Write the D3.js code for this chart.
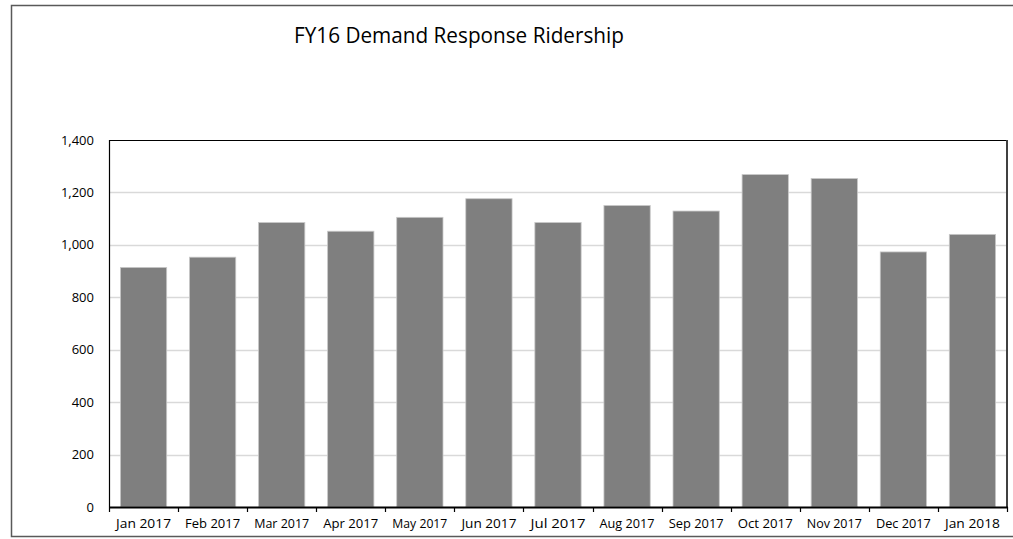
<!DOCTYPE html>
<html>
<head>
<meta charset="utf-8">
<script src="https://cdn.jsdelivr.net/npm/d3@7"></script>
<style>
  body { margin: 0; background: #fff; }
  text { font-family: "Open Sans", "Noto Sans", sans-serif; fill: #000; }
</style>
</head>
<body>
<script>
// chart data
var months = ["Jan 2017", "Feb 2017", "Mar 2017", "Apr 2017", "May 2017", "Jun 2017", "Jul 2017",
              "Aug 2017", "Sep 2017", "Oct 2017", "Nov 2017", "Dec 2017", "Jan 2018"];
var riders = [914, 953, 1085, 1052, 1105, 1176, 1085, 1150, 1129, 1268, 1253, 973, 1040];
var yTicks = [0, 200, 400, 600, 800, 1000, 1200, 1400];
var title = "FY16 Demand Response Ridership";

var width = 1013, height = 539;
var plot = { left: 109, right: 1007, top: 140, bottom: 507 };

var svg = d3.select("body").append("svg").attr("width", width).attr("height", height);

// outer chart frame (right side runs off the picture)
svg.append("rect")
  .attr("x", 11.5).attr("y", 5.5).attr("width", 1020).attr("height", 531)
  .attr("fill", "none").attr("stroke", "#595959").attr("stroke-width", 1.5);

var x = d3.scaleBand().domain(months).range([plot.left, plot.right]).paddingInner(0.33).paddingOuter(0.165);
var y = d3.scaleLinear().domain([0, 1400]).range([plot.bottom, plot.top]);

// gridlines
svg.append("g").selectAll("line").data(yTicks.slice(1, -1)).enter().append("line")
  .attr("x1", plot.left).attr("x2", plot.right)
  .attr("y1", function(d) { return Math.round(y(d)) + 0.5; })
  .attr("y2", function(d) { return Math.round(y(d)) + 0.5; })
  .attr("stroke", "#d9d9d9").attr("stroke-width", 1.5);

// bars
svg.append("g").selectAll("rect").data(riders).enter().append("rect")
  .attr("x", function(d, i) { return x(months[i]); })
  .attr("y", function(d) { return y(d); })
  .attr("width", x.bandwidth())
  .attr("height", function(d) { return plot.bottom - y(d); })
  .attr("fill", "#7f7f7f").attr("stroke", "#c8c8c8").attr("stroke-width", 0.8);

// plot border (top, left, right)
svg.append("path")
  .attr("d", "M" + (plot.left + 0.5) + "," + plot.bottom + "V" + (plot.top + 0.5) + "H" + plot.right + "V" + plot.bottom)
  .attr("fill", "none").attr("stroke", "#000").attr("stroke-width", 1.2);
svg.append("line")
  .attr("x1", plot.right).attr("x2", plot.right).attr("y1", plot.top).attr("y2", plot.bottom)
  .attr("stroke", "#404040").attr("stroke-width", 2);

// y axis labels
svg.append("g").selectAll("text").data(yTicks).enter().append("text")
  .attr("x", 94).attr("y", function(d) { return y(d); })
  .attr("dy", "0.35em").attr("text-anchor", "end")
  .style("font-size", "13px")
  .text(d3.format(","));

// x axis line and ticks between categories
svg.append("line")
  .attr("x1", plot.left).attr("x2", plot.right + 1)
  .attr("y1", plot.bottom + 0.5).attr("y2", plot.bottom + 0.5)
  .attr("stroke", "#000").attr("stroke-width", 2);
var bounds = months.map(function(m) { return x(m) - x.step() * x.paddingInner() / 2; });
bounds.push(plot.right);
svg.append("g").selectAll("line").data(bounds).enter().append("line")
  .attr("x1", function(d) { return Math.round(d) + 0.5; })
  .attr("x2", function(d) { return Math.round(d) + 0.5; })
  .attr("y1", plot.bottom).attr("y2", plot.bottom + 5)
  .attr("stroke", "#000").attr("stroke-width", 1.2);

svg.append("g").selectAll("text").data(months).enter().append("text")
  .attr("x", function(d) { return x(d) + x.bandwidth() / 2; })
  .attr("y", 528)
  .attr("text-anchor", "middle")
  .style("font-size", "13px")
  .attr("textLength", 55).attr("lengthAdjust", "spacingAndGlyphs")
  .text(function(d) { return d; });

// title
svg.append("text")
  .attr("x", 294).attr("y", 43)
  .attr("textLength", 330).attr("lengthAdjust", "spacingAndGlyphs")
  .style("font-size", "21px")
  .text(title);
</script>
</body>
</html>
